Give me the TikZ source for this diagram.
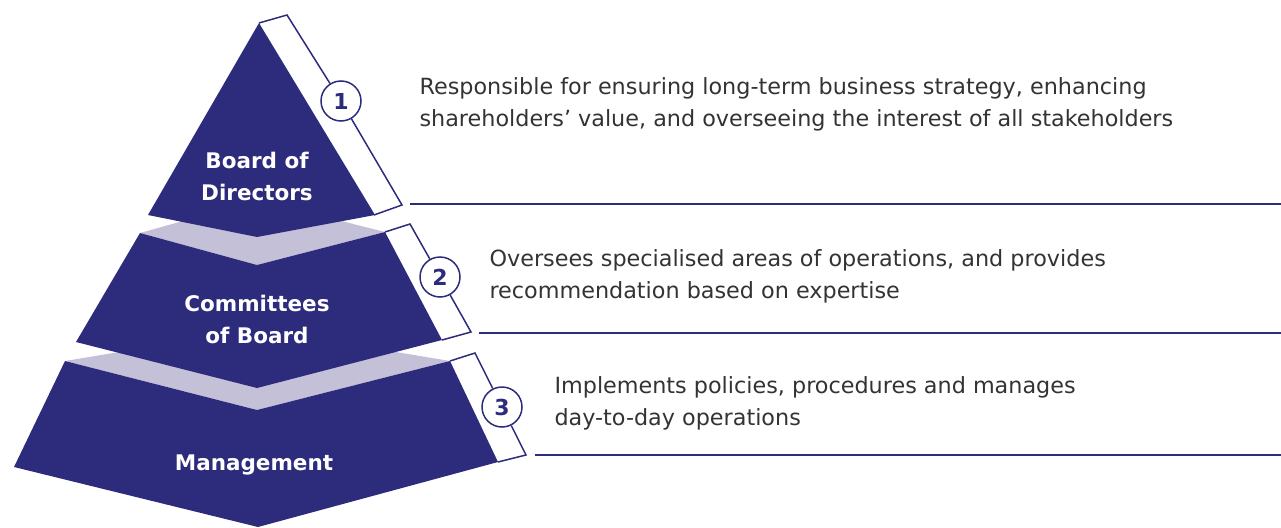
\documentclass[tikz,border=0pt]{standalone}
\usepackage{fontspec}
\setmainfont{DejaVu Sans}
\usetikzlibrary{positioning}
\definecolor{navy}{RGB}{45,43,124}
\definecolor{lilac}{RGB}{195,192,216}
\definecolor{txtgray}{RGB}{51,51,51}

\begin{document}
\begin{tikzpicture}[x = 1pt, y = -1pt,
  tier/.style = {fill = navy},
  band/.style = {fill = lilac},
  lbl/.style = {text = white, font = \fontsize{21.5}{32}\selectfont\bfseries, align = center},
  desc/.style = {anchor = west, text = txtgray, font = \fontsize{22.3}{32}\selectfont, align = left},
  num/.style = {circle, draw = navy, line width = 1.5pt, fill = white, minimum size = 40pt, inner sep = 0pt, text = navy, font = \fontsize{22}{22}\selectfont\bfseries},
  brace/.style = {draw = navy, line width = 1.5pt}]
\useasboundingbox (0,0) rectangle (1281,527);

% light top faces first, the tiers cover their back halves
\fill[band] (140,233) -- (258,200) -- (385,232) -- (257,265) -- cycle;
\fill[band] (65,361) -- (258,329) -- (450,361) -- (257,410) -- cycle;

% the three tiers
\fill[tier] (259,23) -- (375,215) -- (257,237) -- (148,215) -- cycle;
\fill[tier] (140,233) -- (257,265) -- (385,232) -- (442,340) -- (257,388) -- (76,342) -- cycle;
\fill[tier] (65,361) -- (257,410) -- (450,361) -- (498,462) -- (258,527) -- (14,467) -- cycle;

\node[lbl] (board) at (257,176) {Board of\\Directors};
\node[lbl] (cttee) at (257,319) {Committees\\of Board};
\node[lbl] (mgmt) at (254,465) {Management};

% brackets along the right edges
\coordinate (t1a) at (259,23);
\coordinate (t1b) at (287,15);
\coordinate (t1c) at (402,205);
\coordinate (t1d) at (374,215);
\coordinate (t2a) at (385,232);
\coordinate (t2b) at (410,224);
\coordinate (t2c) at (471,332);
\coordinate (t2d) at (442,340);
\coordinate (t3a) at (450,361);
\coordinate (t3b) at (475,353);
\coordinate (t3c) at (526,455);
\coordinate (t3d) at (498,462);

\node[num] (n1) at (341,101) {1};
\node[num] (n2) at (440,277) {2};
\node[num] (n3) at (502,407) {3};

\draw[brace] (t1a) -- (t1b) -- (n1);
\draw[brace] (n1) -- (t1c) -- (t1d);
\draw[brace] (t2a) -- (t2b) -- (n2);
\draw[brace] (n2) -- (t2c) -- (t2d);
\draw[brace] (t3a) -- (t3b) -- (n3);
\draw[brace] (n3) -- (t3c) -- (t3d);

% rules under each description
\coordinate (r1a) at (410,204);
\coordinate (r1b) at (1281,204);
\coordinate (r2a) at (479,333);
\coordinate (r2b) at (1281,333);
\coordinate (r3a) at (535,455);
\coordinate (r3b) at (1281,455);
\draw[brace] (r1a) -- (r1b);
\draw[brace] (r2a) -- (r2b);
\draw[brace] (r3a) -- (r3b);

\node[desc] (d1) at (416,104) {Responsible for ensuring long-term business strategy, enhancing\\shareholders’ value, and overseeing the interest of all stakeholders};
\node[desc] (d2) at (486,276) {Oversees specialised areas of operations, and provides\\recommendation based on expertise};
\node[desc] (d3) at (551,403) {Implements policies, procedures and manages\\day-to-day operations};
\end{tikzpicture}
\end{document}
